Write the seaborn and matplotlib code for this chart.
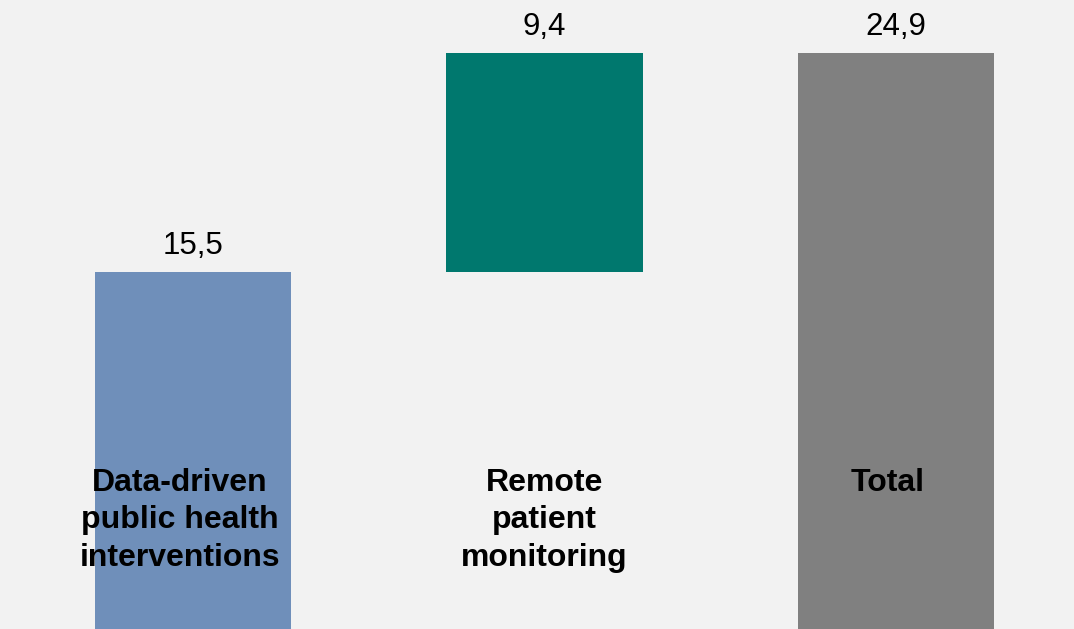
import pandas as pd
import matplotlib
matplotlib.use('Agg')
import matplotlib.pyplot as plt
import seaborn as sns

# data
categories = ['Data-driven\npublic health\ninterventions', 'Remote\npatient\nmonitoring', 'Total']
values = [15.5, 9.4, 24.9]
bases = [0, 15.5, 0]
colors = ['#6F8FBA', '#00786E', '#808080']

sns.set_theme(style='white')
plt.rcParams['font.family'] = ['Liberation Sans', 'DejaVu Sans']

df = pd.DataFrame({'cat': categories, 'top': [b + v for b, v in zip(bases, values)]})

fig = plt.figure(figsize=(10.74, 6.29), dpi=100)
fig.patch.set_facecolor('#F2F2F2')
ax = fig.add_axes([0, 0, 1, 1])
ax.set_facecolor('#F2F2F2')

sns.barplot(data=df, x='cat', y='top', hue='cat', palette=colors, legend=False,
            width=0.558, saturation=1, linewidth=0, ax=ax)

# waterfall: lift floating bars onto their base
for p, b, v in zip(ax.patches, bases, values):
    p.set_y(b)
    p.set_height(v)
    ax.annotate(f'{v:.1f}'.replace('.', ','), (p.get_x() + p.get_width() / 2, b + v),
                xytext=(0, 8), textcoords='offset points', ha='center', va='bottom',
                fontsize=22.5, color='black')

# category labels sit inside the plot, slightly nudged like the original
label_dx = [-0.037, 0, -0.023]
for i, c in enumerate(categories):
    ax.text(i + label_dx[i], 7.1, c, ha='center', va='top', fontsize=23, fontweight='bold',
            linespacing=1.33, color='black')

ax.set_xlim(-0.549, 2.506)
ax.set_ylim(0.17, 27.17)
ax.axis('off')

fig.savefig('out.png', dpi=100, facecolor=fig.get_facecolor())
